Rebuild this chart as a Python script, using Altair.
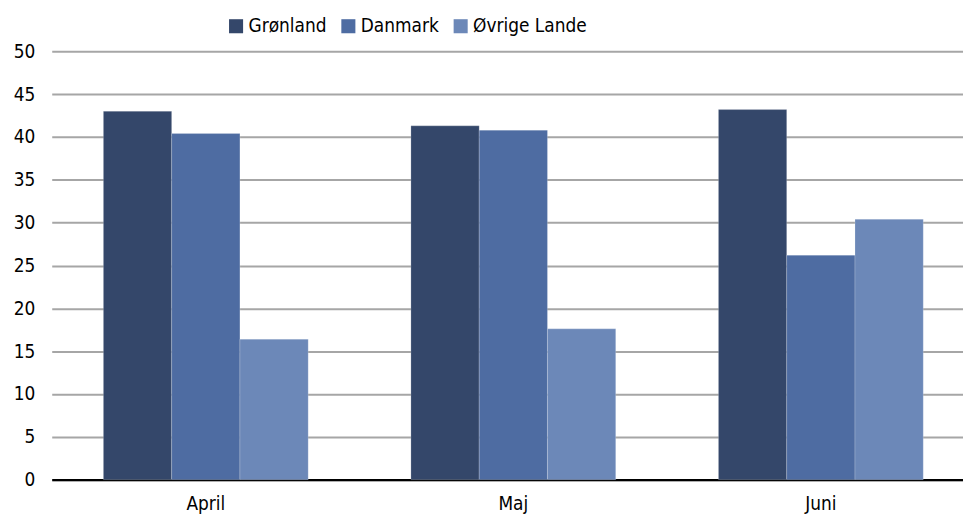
import altair as alt
import pandas as pd

months = ["April", "Maj", "Juni"]
series = ["Grønland", "Danmark", "Øvrige Lande"]
groenland = [43.0, 41.3, 43.2]
danmark = [40.4, 40.8, 26.2]
oevrige = [16.4, 17.6, 30.4]
colors = ["#34476A", "#4E6CA2", "#6C88B8"]

rows = []
for i, m in enumerate(months):
    for s, vals in zip(series, [groenland, danmark, oevrige]):
        rows.append({"Måned": m, "Serie": s, "Værdi": vals[i]})
df = pd.DataFrame(rows)

FONT = "DejaVu Sans Condensed"

chart = alt.Chart(df).mark_bar(stroke="#ffffff", strokeWidth=0.5, strokeOpacity=0.4).encode(
    x=alt.X("Måned:N", sort=months, title=None,
            scale=alt.Scale(paddingInner=0.334, paddingOuter=0.168, range=[0, 929]),
            axis=alt.Axis(labelAngle=0, labelFontSize=19, labelFont=FONT, labelColor="#000000",
                          domainColor="#000000", domainWidth=2.5, ticks=False, labelPadding=15)),
    xOffset=alt.XOffset("Serie:N", sort=series, scale=alt.Scale(paddingInner=0, paddingOuter=0)),
    y=alt.Y("Værdi:Q", title=None,
            scale=alt.Scale(domain=[0, 50], nice=False),
            axis=alt.Axis(values=list(range(0, 51, 5)), labelFontSize=19, labelFont=FONT,
                          labelColor="#000000", domain=False, ticks=False, labelPadding=17,
                          gridColor="#A6A6A6", gridWidth=2)),
    color=alt.Color("Serie:N", sort=series,
                    scale=alt.Scale(domain=series, range=colors),
                    legend=alt.Legend(title=None, orient="none", direction="horizontal",
                                      legendX=176, legendY=-35, symbolType="square",
                                      symbolSize=200, symbolStrokeWidth=0, labelFontSize=19,
                                      labelFont=FONT, labelColor="#000000", columnPadding=12,
                                      labelOffset=3)),
).properties(
    width=917, height=431,
    autosize=alt.AutoSizeParams(type="none"),
    padding={"left": 44, "top": 42, "right": 0, "bottom": 36},
).configure_view(stroke=None)

chart.save("out.html", embed_options={"renderer": "svg", "actions": False})
